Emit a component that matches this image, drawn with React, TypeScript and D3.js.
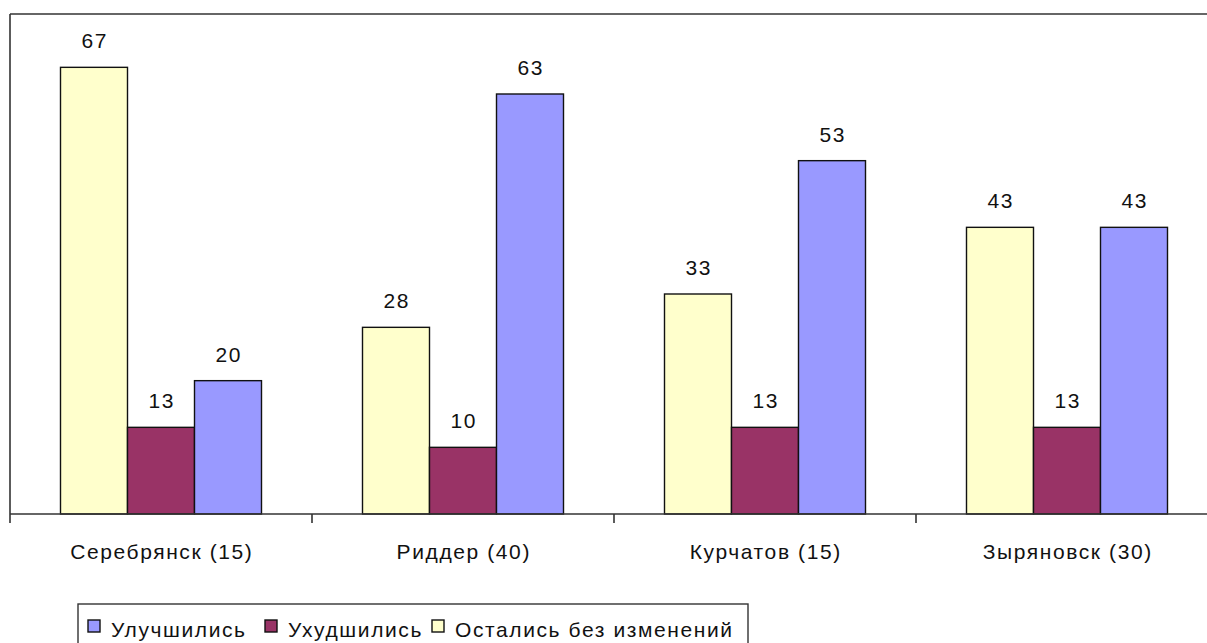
import React from "react";
import * as d3 from "d3";

const categories = ["Серебрянск (15)", "Риддер (40)", "Курчатов (15)", "Зыряновск (30)"];
const seriesNames = ["Остались без изменений", "Ухудшились", "Улучшились"];
const unchanged = [67, 28, 33, 43];
const worse = [13, 10, 13, 13];
const better = [20, 63, 53, 43];
const colors = ["#FFFFCC", "#993366", "#9999FF"];
const legendOrder = [2, 1, 0];

export default function App() {
  const W = 1207, H = 643;
  const left = 10, top = 14, bottom = 514;
  const x0 = d3.scaleBand<string>().domain(categories).range([left, left + 302 * 4]).paddingInner(0).paddingOuter(0);
  const x1 = d3.scaleBand<string>().domain(seriesNames).range([50.5, 302 - 50.5]);
  const y = d3.scaleLinear().domain([0, 75]).range([bottom, top]);
  const series = [unchanged, worse, better];
  const font = "'Liberation Sans', Arial, sans-serif";
  const fs = 21;
  const ls = 1.6;

  const legendX = [88, 265, 432];
  return (
    <svg width={W} height={H} style={{ position: "absolute", left: 0, top: 0, background: "#fff" }}>
      <rect x={0} y={0} width={W} height={H} fill="#fff" />
      <line x1={left} y1={top} x2={W + 20} y2={top} stroke="#333" strokeWidth={1.6} />
      <line x1={left} y1={top} x2={left} y2={bottom} stroke="#333" strokeWidth={1.6} />
      {categories.map((c, ci) =>
        series.map((s, si) => {
          const bx = (x0(c) as number) + (x1(seriesNames[si]) as number);
          const bw = x1.bandwidth();
          return (
            <g key={c + si}>
              <rect x={bx} y={y(s[ci])} width={bw} height={bottom - y(s[ci])} fill={colors[si]} stroke="#111" strokeWidth={1.4} />
              <text x={bx + bw / 2 + ls / 2} y={y(s[ci]) - 19} textAnchor="middle" fontFamily={font} fontSize={fs} letterSpacing={ls} fill="#111">
                {s[ci]}
              </text>
            </g>
          );
        })
      )}
      <line x1={left} y1={bottom} x2={W + 20} y2={bottom} stroke="#333" strokeWidth={1.6} />
      {[...categories.map((c) => x0(c) as number), left + 302 * 4].map((t, i) => (
        <line key={i} x1={t} y1={bottom} x2={t} y2={bottom + 9} stroke="#333" strokeWidth={1.6} />
      ))}
      {categories.map((c) => (
        <text key={c} x={(x0(c) as number) + 151 + ls / 2} y={559} textAnchor="middle" fontFamily={font} fontSize={fs} letterSpacing={ls} fill="#111">
          {c}
        </text>
      ))}
      <rect x={78} y={604} width={670} height={60} fill="#fff" stroke="#333" strokeWidth={1.4} />
      {legendOrder.map((si, i) => (
        <g key={si}>
          <rect x={legendX[i]} y={620} width={12} height={12} fill={colors[si]} stroke="#111" strokeWidth={1.4} />
          <text x={legendX[i] + 23} y={637} fontFamily={font} fontSize={fs} letterSpacing={ls} fill="#111">
            {seriesNames[si]}
          </text>
        </g>
      ))}
    </svg>
  );
}
